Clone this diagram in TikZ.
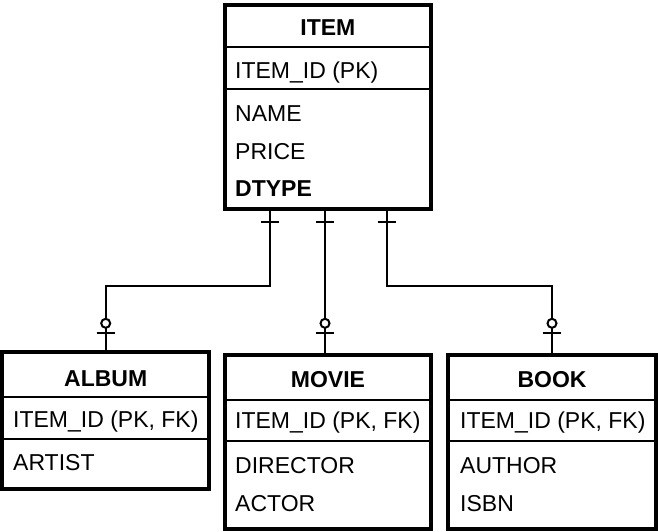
\documentclass[tikz,border=0pt]{standalone}
\usepackage{fontspec}
\setmainfont{Liberation Sans}
\begin{document}
\begin{tikzpicture}[x=1pt,y=-1pt,font=\fontsize{23}{27}\selectfont,
  entity/.style={draw=black,line width=4pt,inner sep=0pt,fill=white},
  title/.style={anchor=base,inner sep=0pt,font=\fontsize{23}{27}\selectfont\bfseries},
  field/.style={anchor=base west,inner sep=0pt},
  rel/.style={line width=2pt}]

\useasboundingbox (0,0) rectangle (658,532);

% entities
\node[entity,minimum width=206.8pt,minimum height=203.7pt] (item) at (327.9,107.2) {};
\node[entity,minimum width=207.3pt,minimum height=136.7pt] (album) at (105.7,420.4) {};
\node[entity,minimum width=206.6pt,minimum height=174pt] (movie) at (328,441.7) {};
\node[entity,minimum width=208pt,minimum height=174pt] (book) at (552,441.7) {};

% dividers
\draw[rel] (item.west |- 0,47) -- (item.east |- 0,47);
\draw[rel] (item.west |- 0,88.7) -- (item.east |- 0,88.7);
\draw[rel] (album.west |- 0,396.7) -- (album.east |- 0,396.7);
\draw[rel] (album.west |- 0,439) -- (album.east |- 0,439);
\draw[rel] (movie.west |- 0,400) -- (movie.east |- 0,400);
\draw[rel] (movie.west |- 0,440.7) -- (movie.east |- 0,440.7);
\draw[rel] (book.west |- 0,400) -- (book.east |- 0,400);
\draw[rel] (book.west |- 0,440.7) -- (book.east |- 0,440.7);

% texts
\node[title] (itemT) at (327.9,35.7) {ITEM};
\node[field] (itemId) at (235,79) {ITEM\_ID (PK)};
\node[field] (itemName) at (235,121.7) {NAME};
\node[field] (itemPrice) at (235,159.3) {PRICE};
\node[field,font=\fontsize{23}{27}\selectfont\bfseries] (itemType) at (235,196.7) {DTYPE};

\node[title] (albumT) at (105.7,386.7) {ALBUM};
\node[field] (albumId) at (13,427.3) {ITEM\_ID (PK, FK)};
\node[field] (albumArtist) at (13,470) {ARTIST};

\node[title] (movieT) at (328,387.7) {MOVIE};
\node[field] (movieId) at (235,428.3) {ITEM\_ID (PK, FK)};
\node[field] (movieDir) at (235,473.3) {DIRECTOR};
\node[field] (movieActor) at (235,511.7) {ACTOR};

\node[title] (bookT) at (552,387.7) {BOOK};
\node[field] (bookId) at (460,428.3) {ITEM\_ID (PK, FK)};
\node[field] (bookAuthor) at (460,473.3) {AUTHOR};
\node[field] (bookIsbn) at (460,511.7) {ISBN};

% relations
\draw[rel] ([xshift=-57.9pt]item.south) -- ++(0,75) -| (album.north);
\draw[rel] ([xshift=-2.9pt]item.south) -- ([xshift=-3pt]movie.north);
\draw[rel] ([xshift=58.6pt]item.south) -- ++(0,75) -| (book.north);

% markers
\foreach \x in {270,325,386.5}
  \draw[rel] (\x-9,222.3) -- (\x+9,222.3);
\foreach \x in {105.7,325,552} {
  \draw[rel] (\x-9,333.3) -- (\x+9,333.3);
  \filldraw[rel,fill=white] (\x,323.3) circle (4.5pt);
}

\end{tikzpicture}
\end{document}
